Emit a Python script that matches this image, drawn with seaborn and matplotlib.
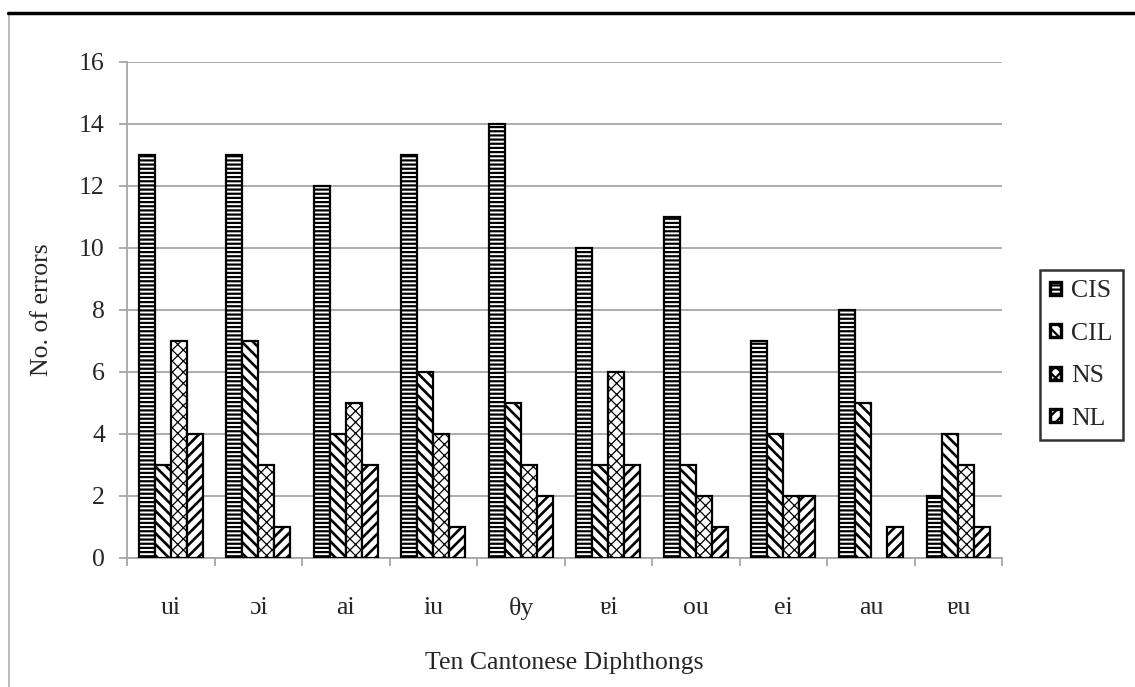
import matplotlib
matplotlib.use("Agg")
import matplotlib.pyplot as plt
import seaborn as sns
import pandas as pd
from matplotlib.patches import Patch, Rectangle
from matplotlib.lines import Line2D

diphthongs = ["ui", "ɔi", "ai", "iu", "θy", "ɐi", "ou", "ei", "au", "ɐu"]
series = ["CIS", "CIL", "NS", "NL"]
cis = [13, 13, 12, 13, 14, 10, 11, 7, 8, 2]
cil = [3, 7, 4, 6, 5, 3, 3, 4, 5, 4]
ns = [7, 3, 5, 4, 3, 6, 2, 2, 0, 3]
nl = [4, 1, 3, 1, 2, 3, 1, 2, 1, 1]
yticks = [0, 2, 4, 6, 8, 10, 12, 14, 16]

rows = []
for name, vals in zip(series, [cis, cil, ns, nl]):
    for d, v in zip(diphthongs, vals):
        rows.append({"Diphthong": d, "Series": name, "Errors": v})
df = pd.DataFrame(rows)

sns.set_style("white")
plt.rcParams["font.family"] = ["Liberation Serif", "DejaVu Serif"]
plt.rcParams["hatch.linewidth"] = 1.6
plt.rcParams["hatch.color"] = "black"

FS = 18.5
fig = plt.figure(figsize=(11.35, 6.87), dpi=100)
ax = fig.add_axes([0.112, 0.188, 0.771, 0.722])

sns.barplot(data=df, x="Diphthong", y="Errors", hue="Series", order=diphthongs,
            hue_order=series, palette=["white"] * 4, width=0.73, gap=0,
            edgecolor="black", linewidth=1.6, legend=False, ax=ax, zorder=3)

hatches = ["----", "\\\\\\", "xxx", "///"]
hatch_lw = [1.6, 1.9, 0.9, 1.9]


def set_hlw(p, lw):
    if hasattr(p, "set_hatch_linewidth"):
        try:
            p.set_hatch_linewidth(lw)
        except Exception:
            pass


for cont, h, hl in zip(ax.containers, hatches, hatch_lw):
    for p in cont:
        p.set_hatch(h)
        set_hlw(p, hl)
        if p.get_height() == 0:
            p.set_linewidth(0)
            p.set_hatch("")

grey = "#a6a6a6"
ax.set_ylim(0, 16)
ax.set_xlim(-0.5, len(diphthongs) - 0.5)
ax.set_yticks(yticks)
ax.set_yticklabels([str(t) for t in yticks])
ax.yaxis.grid(True, color=grey, linewidth=1.3, zorder=0)
ax.set_axisbelow(True)
for s in ["top", "right"]:
    ax.spines[s].set_visible(False)
for s in ["left", "bottom"]:
    ax.spines[s].set_color(grey)
    ax.spines[s].set_linewidth(1.3)

ax.tick_params(axis="y", which="major", direction="out", length=6, width=1.3,
               color=grey, pad=10, labelsize=FS, left=True)
ax.tick_params(axis="x", which="major", length=0, pad=28, labelsize=FS)
ax.set_xticks([i - 0.5 for i in range(len(diphthongs) + 1)], minor=True)
ax.tick_params(axis="x", which="minor", direction="out", length=6, width=1.3,
               color=grey, bottom=True)

ax.set_xlabel("Ten Cantonese Diphthongs", fontsize=FS, labelpad=23)
ax.set_ylabel("No. of errors", fontsize=FS, labelpad=19)

handles = []
for s, h, hl in zip(series, hatches, hatch_lw):
    hp = Patch(facecolor="white", edgecolor="black", hatch=h, linewidth=2.4, label=s)
    set_hlw(hp, hl)
    handles.append(hp)
leg = fig.legend(handles=handles, loc="center left", bbox_to_anchor=(0.916, 0.483),
                 fontsize=FS, frameon=True, fancybox=False, handlelength=0.42,
                 handleheight=0.42, handletextpad=0.4, labelspacing=0.8,
                 borderpad=0.4, borderaxespad=0)
leg.get_frame().set_edgecolor("black")
leg.get_frame().set_linewidth(1.8)

# figure frame
fig.add_artist(Rectangle((9 / 1135, -0.1), 1.2, 1 - 13 / 687 + 0.1,
                         transform=fig.transFigure, fill=False,
                         edgecolor="#b0b0b0", linewidth=1.2))
fig.add_artist(Line2D([8 / 1135, 1.0], [1 - 12.5 / 687] * 2,
                      transform=fig.transFigure, color="black", linewidth=2.5))

fig.savefig("out.png", dpi=100)
